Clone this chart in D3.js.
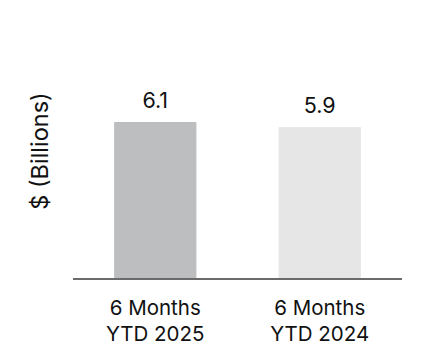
<!DOCTYPE html>
<html>
<head>
<meta charset="utf-8">
<script src="https://cdn.jsdelivr.net/npm/d3@7"></script>
<style>
  body { margin: 0; background: #fff; }
  text { font-family: Inter, "Liberation Sans", Arial, sans-serif; fill: #111; }
</style>
</head>
<body>
<div class="bar-chart"></div>
<script>
// Chart values.
var periods = ["6 Months\nYTD 2025", "6 Months\nYTD 2024"];
var values = [6.1, 5.9];
var barColors = ["#bdbebf", "#e6e6e7"];
var yTitle = "$ (Billions)";

var svgWidth = 422, svgHeight = 364;
var margin = { top: 122, right: 20, bottom: 85, left: 73 };
var chartWidth = svgWidth - margin.left - margin.right;
var chartHeight = svgHeight - margin.top - margin.bottom;

var svg = d3.select(".bar-chart")
  .append("svg")
  .attr("width", svgWidth)
  .attr("height", svgHeight);

var chart = svg.append("g")
  .attr("transform", "translate(" + margin.left + "," + margin.top + ")");

// x band scale for the two periods
var xScale = d3.scaleBand()
  .domain(periods)
  .range([0, 329])
  .paddingInner(0.5)
  .paddingOuter(0.25);

// y scale, 6.1 touches the top of the plot
var yScale = d3.scaleLinear()
  .domain([0, 6.1])
  .range([chartHeight, 0]);

// bars
chart.selectAll("rect.bar")
  .data(values)
  .enter().append("rect")
  .attr("class", "bar")
  .attr("x", function(d, i) { return xScale(periods[i]); })
  .attr("width", xScale.bandwidth())
  .attr("y", function(d) { return yScale(d); })
  .attr("height", function(d) { return chartHeight - yScale(d); })
  .attr("fill", function(d, i) { return barColors[i]; });

// value labels
chart.selectAll("text.value")
  .data(values)
  .enter().append("text")
  .attr("class", "value")
  .attr("x", function(d, i) { return xScale(periods[i]) + xScale.bandwidth() / 2; })
  .attr("y", function(d) { return yScale(d) - 14; })
  .attr("text-anchor", "middle")
  .style("font-size", "21.5px")
  .text(function(d) { return d.toFixed(1); });

// baseline axis
var bottomAxis = d3.axisBottom(xScale).tickSize(0).tickFormat("");
var axisG = chart.append("g")
  .attr("transform", "translate(0," + chartHeight + ")")
  .call(bottomAxis);
axisG.select(".domain")
  .attr("stroke", "#6b6b6b")
  .attr("stroke-width", 2)
  .attr("d", "M0,0H329");

// two-line category labels
periods.forEach(function(p) {
  var t = chart.append("text")
    .attr("x", xScale(p) + xScale.bandwidth() / 2)
    .attr("y", chartHeight + 36)
    .attr("text-anchor", "middle")
    .style("font-size", "20.5px");
  p.split("\n").forEach(function(line, j) {
    t.append("tspan")
      .attr("x", xScale(p) + xScale.bandwidth() / 2)
      .attr("dy", j === 0 ? 0 : 26)
      .text(line);
  });
});

// y-axis title
svg.append("text")
  .attr("transform", "translate(48,151) rotate(-90)")
  .attr("text-anchor", "middle")
  .style("font-size", "23.5px")
  .text(yTitle);
</script>
</body>
</html>
